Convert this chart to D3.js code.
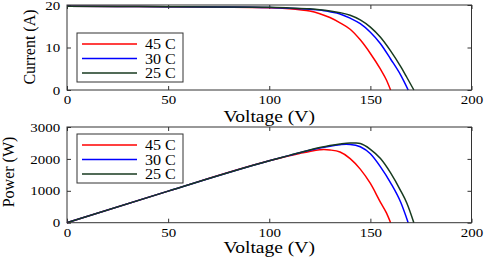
<!DOCTYPE html>
<html>
<head>
<meta charset="utf-8">
<script src="https://cdn.jsdelivr.net/npm/d3@7"></script>
<style>
  body { margin: 0; background: #fff; }
  svg text { font-family: "Liberation Serif", "Times New Roman", serif; fill: #000; }
  .axis line { stroke: #333; }
  .axis path { display: none; }
</style>
</head>
<body>
<div id="chart"></div>
<script>
// temperatures shown in the legend
const labels = ["45 C", "30 C", "25 C"];
const colors = ["#ff0000", "#0000ff", "#173a1f"];

// I-V curves (voltage in V, current in A)
const ivVoltage45 = [0, 25, 50, 75, 100, 110, 115, 120, 125, 130, 135, 140, 145, 150, 155, 158, 160];
const ivCurrent45 = [19.7, 19.65, 19.6, 19.5, 19.35, 19.1, 18.9, 18.6, 17.95, 17.05, 15.8, 14.3, 11.8, 8.6, 4.9, 2.3, 0];
const ivVoltage30 = [0, 25, 50, 75, 100, 110, 120, 125, 130, 135, 140, 145, 150, 155, 160, 165, 168.7];
const ivCurrent30 = [19.7, 19.65, 19.6, 19.55, 19.4, 19.25, 19.0, 18.8, 18.4, 17.9, 16.9, 15.6, 13.6, 10.9, 7.3, 3.5, 0];
const ivVoltage25 = [0, 25, 50, 75, 100, 110, 120, 125, 130, 135, 140, 145, 150, 155, 160, 165, 168, 171.5];
const ivCurrent25 = [19.7, 19.65, 19.6, 19.55, 19.45, 19.3, 19.1, 18.9, 18.6, 18.2, 17.6, 16.5, 14.8, 12.4, 9.2, 5.5, 3.0, 0];

// P-V curves (voltage in V, power in W)
const pvVoltage45 = [0, 50, 100, 110, 115, 120, 125, 127, 130, 135, 140, 145, 150, 155, 158, 160];
const pvPower45 = [0, 990, 1940, 2100, 2170, 2235, 2285, 2295, 2280, 2215, 2010, 1680, 1230, 640, 300, 0];
const pvVoltage30 = [0, 50, 100, 110, 120, 125, 130, 135, 138, 140, 145, 150, 155, 160, 165, 168.7];
const pvPower30 = [0, 990, 1940, 2110, 2270, 2340, 2400, 2445, 2460, 2455, 2380, 2160, 1750, 1250, 640, 0];
const pvVoltage25 = [0, 50, 100, 110, 120, 125, 130, 135, 140, 143, 145, 150, 155, 160, 165, 168, 171.5];
const pvPower25 = [0, 990, 1940, 2110, 2280, 2355, 2420, 2470, 2500, 2495, 2480, 2300, 2010, 1560, 1000, 620, 0];

// tick values
const voltageTicks = [0, 50, 100, 150, 200];
const currentTicks = [0, 10, 20];
const powerTicks = [0, 1000, 2000, 3000];

const W = 484, H = 257;
const stretch = "scale(1.15,1)"; // the source picture is a bit wider than tall
const svg = d3.select("#chart").append("svg")
    .attr("width", W)
    .attr("height", H);

function zip(xs, ys) {
    return xs.map((v, i) => [v, ys[i]]);
}

function styleTicks(sel) {
    sel.attr("font-family", null);
    sel.selectAll("text")
        .style("font-family", "'Liberation Serif', 'Times New Roman', serif")
        .style("font-size", "13px")
        .attr("fill", "#000")
        .attr("transform", stretch);
}

function drawPanel(opts) {
    const x = d3.scaleLinear().domain([0, 200]).range([opts.left, opts.right]);
    const y = d3.scaleLinear().domain(opts.yDomain).range([opts.bottom, opts.top]);
    const g = svg.append("g");

    // ticks (inward, mirrored on all sides like matlab)
    g.append("g").attr("class", "axis")
        .attr("transform", `translate(0,${opts.bottom})`)
        .call(d3.axisBottom(x).tickValues(voltageTicks).tickSizeInner(-4).tickSizeOuter(0).tickPadding(5))
        .call(styleTicks);
    g.append("g").attr("class", "axis")
        .attr("transform", `translate(0,${opts.top})`)
        .call(d3.axisTop(x).tickValues(voltageTicks).tickSizeInner(-4).tickSizeOuter(0).tickFormat(""));
    g.append("g").attr("class", "axis")
        .attr("transform", `translate(${opts.left},0)`)
        .call(d3.axisLeft(y).tickValues(opts.yTicks).tickFormat(d3.format("d")).tickSizeInner(-4).tickSizeOuter(0).tickPadding(6))
        .call(styleTicks);
    g.append("g").attr("class", "axis")
        .attr("transform", `translate(${opts.right},0)`)
        .call(d3.axisRight(y).tickValues(opts.yTicks).tickSizeInner(-4).tickSizeOuter(0).tickFormat(""));

    // curves
    const line = d3.line()
        .x(d => x(d[0]))
        .y(d => y(d[1]))
        .curve(d3.curveMonotoneX);

    opts.series.forEach((s, i) => {
        g.append("path")
            .datum(s)
            .attr("fill", "none")
            .attr("stroke", colors[i])
            .attr("stroke-width", 1.5)
            .attr("d", line);
    });

    // frame
    g.append("rect")
        .attr("x", opts.left).attr("y", opts.top)
        .attr("width", opts.right - opts.left)
        .attr("height", opts.bottom - opts.top)
        .attr("fill", "none")
        .attr("stroke", "#333")
        .attr("stroke-width", 1);

    // axis labels
    const cx = (opts.left + opts.right) / 2;
    g.append("text")
        .attr("transform", `translate(${cx},${opts.xLabelY}) ${stretch}`)
        .attr("text-anchor", "middle")
        .style("font-size", "17px")
        .text("Voltage (V)");
    g.append("text")
        .attr("transform", `translate(${opts.yLabelX},${opts.yLabelY}) rotate(-90)`)
        .attr("text-anchor", "middle")
        .style("font-size", "16px")
        .text(opts.yLabel);

    // legend
    const lg = g.append("g").attr("transform", `translate(${opts.left + 10},${opts.legendTop})`);
    lg.append("rect")
        .attr("width", 106).attr("height", 49)
        .attr("fill", "#fff")
        .attr("stroke", "#333")
        .attr("stroke-width", 1);
    labels.forEach((lab, i) => {
        const yy = 11 + i * 14.5;
        lg.append("line")
            .attr("x1", 5).attr("x2", 60)
            .attr("y1", yy).attr("y2", yy)
            .attr("stroke", colors[i])
            .attr("stroke-width", 1.5);
        lg.append("text")
            .attr("transform", `translate(68,${yy + 5}) ${stretch}`)
            .style("font-size", "14px")
            .text(lab);
    });
}

drawPanel({
    left: 67, right: 471.5, top: 5, bottom: 90,
    yDomain: [0, 20], yTicks: currentTicks,
    yLabel: "Current (A)", yLabelX: 35, yLabelY: 47, xLabelY: 122,
    legendTop: 33,
    series: [zip(ivVoltage45, ivCurrent45), zip(ivVoltage30, ivCurrent30), zip(ivVoltage25, ivCurrent25)]
});

drawPanel({
    left: 67, right: 471.5, top: 127, bottom: 222.7,
    yDomain: [0, 3000], yTicks: powerTicks,
    yLabel: "Power (W)", yLabelX: 14, yLabelY: 172, xLabelY: 253,
    legendTop: 134,
    series: [zip(pvVoltage45, pvPower45), zip(pvVoltage30, pvPower30), zip(pvVoltage25, pvPower25)]
});
</script>
</body>
</html>
